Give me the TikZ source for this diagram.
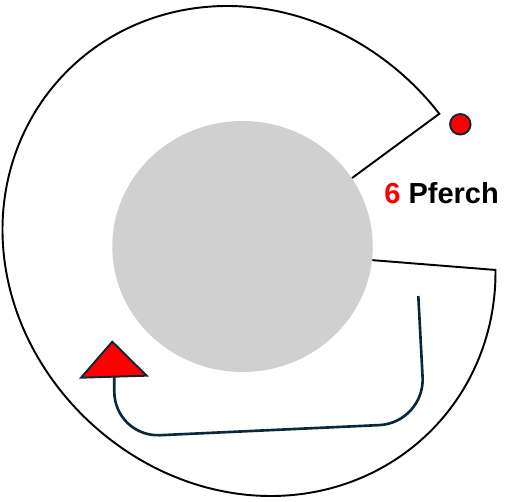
\documentclass[tikz,border=0pt]{standalone}
\usepackage{fontspec}
\setsansfont{Liberation Sans}
\usetikzlibrary{shapes.geometric}

\definecolor{hubgray}{RGB}{208,208,208}
\definecolor{navy}{RGB}{12,40,56}

\begin{document}
\begin{tikzpicture}[
    x=0.02cm, y=-0.02cm,
    fence/.style={draw=black, line width=1.1pt, line join=miter},
    track/.style={draw=navy, line width=1.5pt, rounded corners=0.92cm},
    marker/.style={draw=navy, fill=red, line width=1.1pt},
    gatedot/.style={circle, draw=navy, fill=red, line width=1.1pt,
        minimum size=0.41cm, inner sep=0pt},
    declare function={
        fencer(\t) = 244.8 + 11*cos(2*(\t-137));
    }
]

    % Canvas (pixel grid of the reference)
    \useasboundingbox (0,0) rectangle (506,502);

    % Central grey disk
    \node[ellipse, fill=hubgray, minimum width=5.21cm, minimum height=5.02cm,
        inner sep=0pt] (hub) at (242.5,246.5) {};

    % Outer fence, open towards the gate on the right
    % (polar around (249,251); angles negative since y points down)
    \coordinate (mid) at (249,251);
    \draw[fence] (hub.32) -- plot[domain=35.8:355.6, samples=120, smooth,
        shift={(mid)}] ({-\x}:{fencer(\x)}) -- (hub.-6);

    % Gate marker and label
    \node[gatedot] (gate) at (460.3,124.3) {};
    \node[font=\sffamily\bfseries\fontsize{16.5}{20}\selectfont, anchor=base west,
        inner sep=0pt] (pen) at (384,203.3) {\textcolor{red}{6} Pferch};

    % Walking direction: track ending in a red triangle
    \coordinate (start) at (418.3,296);
    \coordinate (tail) at (114.3,376.5);
    \coordinate (apex) at (112.3,341.7);
    \coordinate (baseL) at (81,377.7);
    \coordinate (baseR) at (146.7,375.7);

    \draw[track] (start) -- (425,423) -- (114.3,437.3) -- (tail);
    \draw[marker] (apex) -- (baseL) -- (baseR) -- cycle;

\end{tikzpicture}
\end{document}
